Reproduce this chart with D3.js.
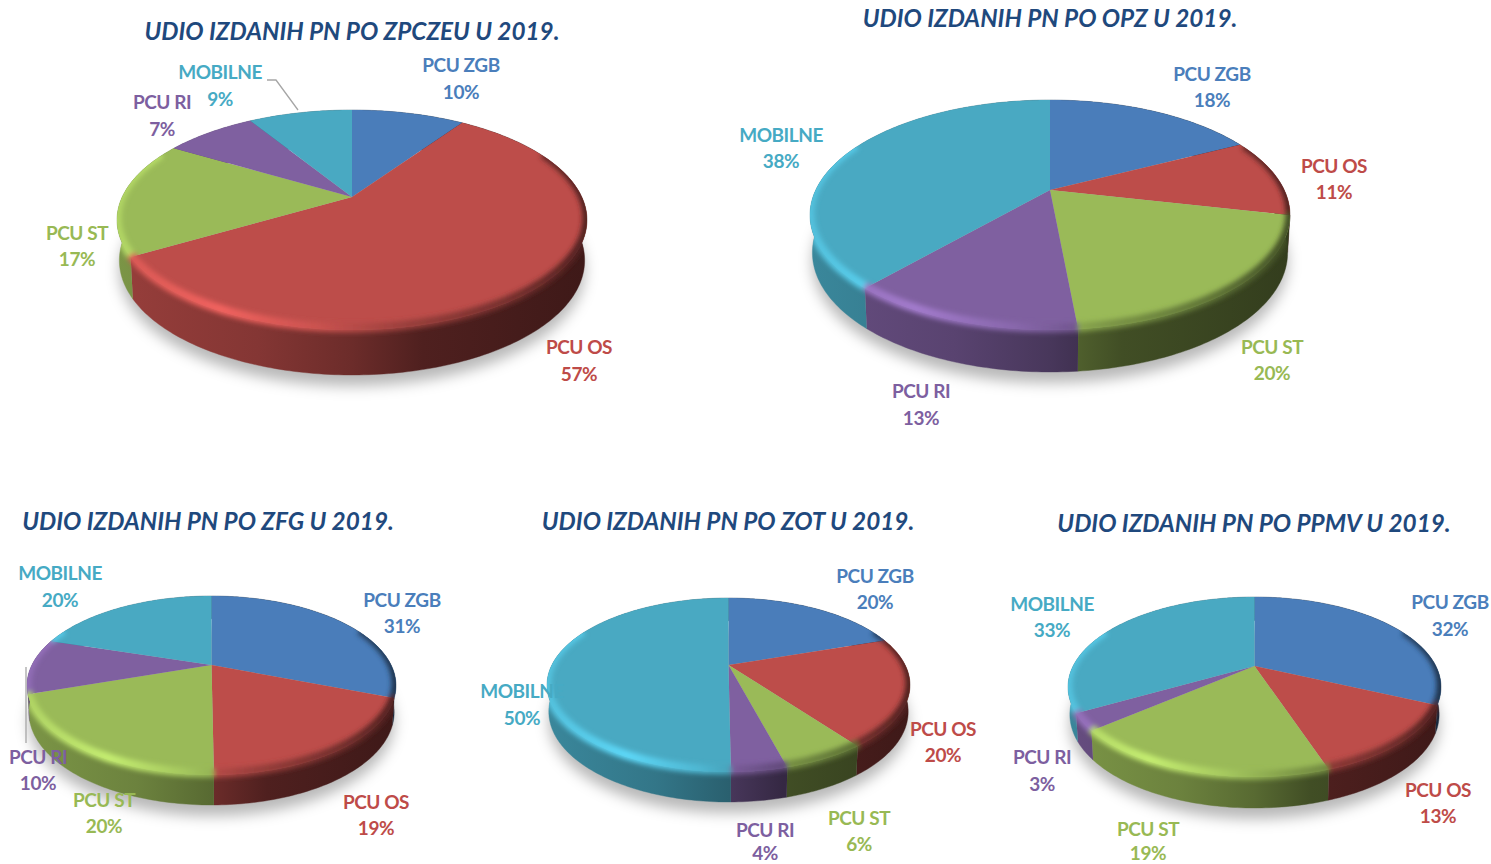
<!DOCTYPE html>
<html><head><meta charset="utf-8">
<script src="https://cdn.jsdelivr.net/npm/d3@7/dist/d3.min.js"></script>
<style>html,body{margin:0;padding:0;background:#fff;overflow:hidden}svg{display:block}text{font-family:Lato,"Open Sans",sans-serif;font-weight:700}</style>
</head><body><svg id="c" width="1491" height="864"></svg>
<script>
// ---- data ----
const categories = ["PCU ZGB","PCU OS","PCU ST","PCU RI","MOBILNE"];
const titles = ["UDIO IZDANIH PN PO ZPCZEU U 2019.","UDIO IZDANIH PN PO OPZ U 2019.","UDIO IZDANIH PN PO ZFG U 2019.","UDIO IZDANIH PN PO ZOT U 2019.","UDIO IZDANIH PN PO PPMV U 2019."];
const valuesZpczeu = [10,57,17,7,9];
const valuesOpz    = [18,11,20,13,38];
const valuesZfg    = [31,19,20,10,20];
const valuesZot    = [20,20,6,4,50];
const valuesPpmv   = [32,13,19,3,33];
const allValues = [valuesZpczeu,valuesOpz,valuesZfg,valuesZot,valuesPpmv];

// ---- layout & style (not data) ----
const colors = ["#4a7dba","#bd4d4a","#9aba58","#7f60a0","#49a9c2"];
const labelColors = ["#4a7ebb","#be4b48","#98b954","#7d5fa0","#46aac4"];
const geometry = [
 {left:117,right:587,top:110,apex:197,front:330,thick:45,turn:1.8},
 {left:810,right:1290,top:100,apex:190,front:330,thick:42,turn:1.8},
 {left:27,right:396,top:596,apex:665,front:775,thick:30,turn:.6},
 {left:547,right:910,top:598,apex:665,front:772,thick:30,turn:.6},
 {left:1068,right:1441,top:597,apex:666,front:777,thick:31,turn:.6}
];
const titlePos = [[352,31],[1050,18],[208,521],[728,521],[1254,523]];
const labelPos = [
 [[461,65,92],[579,347,374],[77,233,259],[162,102,129],[220,72,99]],
 [[1212,74,100],[1334,166,192],[1272,347,373],[921,391,418],[781,135,161]],
 [[402,600,626],[376,802,828],[104,800,826],[38,757,783],[60,573,600]],
 [[875,576,602],[943,729,755],[859,818,844],[765,830,853.5],[522,691,718]],
 [[1450,602,629],[1438,790,816],[1148,829,853.5],[1042,757,784],[1052,604,630]]
];
const leaders = [[[267,80],[276,80],[298,110]],[[26,667],[26,743]]];

const svg = d3.select("#c");
const defs = svg.append("defs");
const blur = (id,s)=>defs.append("filter").attr("id",id)
  .attr("x","-20%").attr("y","-20%").attr("width","140%").attr("height","140%")
  .append("feGaussianBlur").attr("stdDeviation",s);
blur("rimBlur",2.8); blur("shadowBlur",7);

const shade = (c,f)=>{const r=d3.rgb(c);return d3.rgb(Math.min(255,r.r*f),Math.min(255,r.g*f),Math.min(255,r.b*f)).formatHex();};
const sideStops = [[0,.8],[.3,.7],[.5,.57],[.65,.42],[1,.33]];
const rimStops  = [[0,1.14],[.22,1.28],[.42,1.08],[.62,.8],[.85,.6],[1,.42]];
const pieGen = d3.pie().sort(null);
const line = d3.line();
const deg = Math.PI/180;

allValues.forEach((vals,pi)=>{
  const g = geometry[pi];
  // slight turn of the pie in the 3D view: angle of the data -> angle on the rim
  const viewTurn = d3.scaleLinear().domain([0,20*deg,300*deg,330*deg,360*deg])
    .range([0,(20-g.turn)*deg,(300-g.turn)*deg,(330+g.turn*.67)*deg,360*deg]);
  const cx=(g.left+g.right)/2, rx=(g.right-g.left)/2;
  const t=g.apex-g.top, b=g.front-g.apex;
  const k=(b-t)/(b+t), h=t*(1+k), R=rx*Math.sqrt(1-k*k), kw=.6*k;
  const proj = a=>{const u=Math.sin(a),v=Math.cos(a),d=1+k*v;return [cx+R*u/d,g.apex-h*v/d,(1-kw)/(1+kw*v)];};
  const down = (p,extra=0)=>[cx+(p[0]-cx)*.99,p[1]+(g.thick+extra)*p[2]];
  const arcPts = (a0,a1)=>{const n=Math.max(2,Math.ceil((a1-a0)/deg));return d3.range(n+1).map(i=>proj(a0+(a1-a0)*i/n));};
  const arcs = pieGen(vals).map(d=>({...d,startAngle:viewTurn(d.startAngle),endAngle:viewTurn(d.endAngle)}));
  const root = svg.append("g");

  colors.forEach((c,ci)=>{
    [["side",sideStops],["rim",rimStops]].forEach(([nm,stops])=>{
      const lg=defs.append("linearGradient").attr("id",`${nm}${pi}_${ci}`).attr("gradientUnits","userSpaceOnUse")
        .attr("x1",g.left).attr("x2",g.right).attr("y1",0).attr("y2",0);
      stops.forEach(s=>lg.append("stop").attr("offset",s[0]).attr("stop-color",shade(c,s[1])));
    });
  });

  // soft ground shadow
  const whole = arcPts(0,2*Math.PI);
  root.append("path").attr("d",d3.line().curve(d3.curveLinearClosed)(whole.map(p=>down(p,11))))
    .attr("fill","#000").attr("fill-opacity",.28).attr("filter","url(#shadowBlur)");

  // silhouette clip
  const clipId=`clip${pi}`;
  const cp=defs.append("clipPath").attr("id",clipId);
  cp.append("path").attr("d",line(whole));
  cp.append("path").attr("d",line(whole.map(p=>down(p))));
  const half=d3.range(0,181).map(i=>proj(Math.PI/2+Math.PI*i/180));
  cp.append("path").attr("d",line(half.concat(half.slice().reverse().map(p=>down(p)))));

  // side walls
  root.append("g").selectAll("path").data(arcs).join("path")
    .attr("d",d=>{const a=arcPts(d.startAngle,d.endAngle);return line(a.concat(a.slice().reverse().map(p=>down(p))));})
    .attr("fill",(d,i)=>`url(#side${pi}_${i})`).attr("stroke",(d,i)=>`url(#side${pi}_${i})`).attr("stroke-width",.4);

  // top faces
  root.append("g").selectAll("path").data(arcs).join("path")
    .attr("d",d=>line([[cx,g.apex]].concat(arcPts(d.startAngle,d.endAngle))))
    .attr("fill",(d,i)=>colors[i]);

  // bevel along the visible rim
  const rimFrom=Math.PI*.36, rimTo=Math.PI*1.64;
  const rim=root.append("g").attr("clip-path",`url(#${clipId})`).append("g").attr("filter","url(#rimBlur)");
  arcs.forEach((d,i)=>{
    const a0=Math.max(d.startAngle,rimFrom), a1=Math.min(d.endAngle,rimTo);
    if(a1<=a0) return;
    rim.append("path").attr("d",d3.line()(arcPts(a0,a1).map(p=>[p[0],p[1]-2])))
      .attr("fill","none").attr("stroke",`url(#rim${pi}_${i})`).attr("stroke-width",9);
  });
});

// leaders
leaders.forEach(l=>svg.append("path").attr("d",d3.line()(l)).attr("fill","none").attr("stroke","#a6a6a6").attr("stroke-width",1.3));

// titles
svg.append("g").selectAll("text").data(titles).join("text")
  .attr("x",(d,i)=>titlePos[i][0]).attr("y",(d,i)=>titlePos[i][1]).attr("dy",".35em")
  .attr("text-anchor","middle").attr("font-style","italic").attr("font-size",24.3).attr("fill","#1f497d").text(d=>d);

// labels
allValues.forEach((vals,pi)=>{
  const lg=svg.append("g").attr("font-size",19).attr("letter-spacing",-0.45).attr("text-anchor","middle");
  categories.forEach((c,i)=>{
    const [x,y1,y2]=labelPos[pi][i];
    lg.append("text").attr("x",x).attr("y",y1).attr("dy",".35em").attr("fill",labelColors[i]).text(c);
    lg.append("text").attr("x",x).attr("y",y2).attr("dy",".35em").attr("fill",labelColors[i]).text(vals[i]+"%");
  });
});
</script></body></html>
